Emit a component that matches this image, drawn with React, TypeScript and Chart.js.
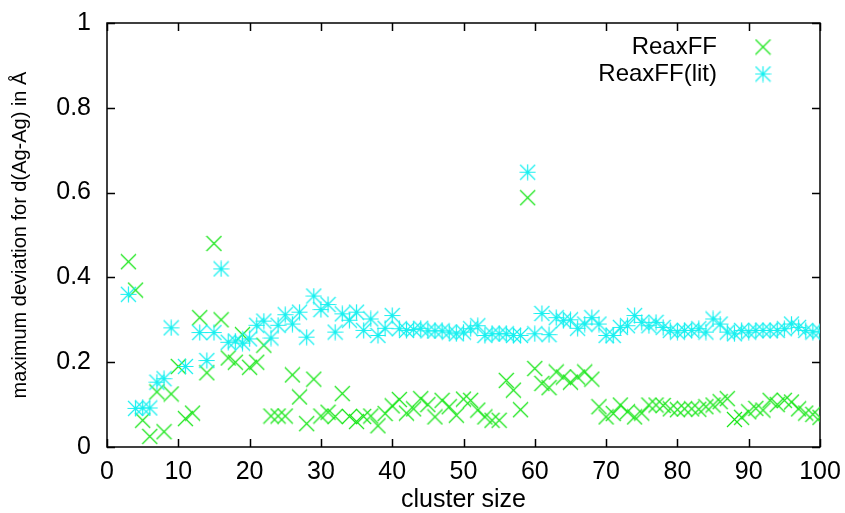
import React, { useEffect, useRef } from 'react';
import { Chart, registerables } from 'chart.js';

Chart.register(...registerables);

// cluster sizes (x categories)
const clusterSizes = [
  3, 4, 5, 6, 7, 8, 9, 10,
  11, 12, 13, 14, 15, 16, 17, 18, 19, 20,
  21, 22, 23, 24, 25, 26, 27, 28, 29, 30,
  31, 32, 33, 34, 35, 36, 37, 38, 39, 40,
  41, 42, 43, 44, 45, 46, 47, 48, 49, 50,
  51, 52, 53, 54, 55, 56, 57, 58, 59, 60,
  61, 62, 63, 64, 65, 66, 67, 68, 69, 70,
  71, 72, 73, 74, 75, 76, 77, 78, 79, 80,
  81, 82, 83, 84, 85, 86, 87, 88, 89, 90,
  91, 92, 93, 94, 95, 96, 97, 98, 99, 100,
];

// ReaxFF maximum deviation (Å)
const reaxff = [
  0.437, 0.37, 0.063, 0.025, 0.13, 0.036, 0.125, 0.19,
  0.067, 0.08, 0.305, 0.175, 0.48, 0.30, 0.21, 0.20, 0.265, 0.188,
  0.20, 0.24, 0.073, 0.073, 0.073, 0.17, 0.118, 0.055, 0.16, 0.073,
  0.082, 0.072, 0.126, 0.072, 0.06, 0.072, 0.073, 0.05, 0.079, 0.097,
  0.112, 0.08, 0.09, 0.114, 0.1, 0.071, 0.11, 0.095, 0.075, 0.113,
  0.11, 0.087, 0.071, 0.063, 0.063, 0.157, 0.134, 0.088, 0.588, 0.185,
  0.15, 0.14, 0.177, 0.165, 0.153, 0.165, 0.177, 0.16, 0.095, 0.071,
  0.079, 0.099, 0.083, 0.071, 0.08, 0.099, 0.099, 0.098, 0.09, 0.088,
  0.09, 0.09, 0.089, 0.095, 0.099, 0.107, 0.114, 0.065, 0.07, 0.083,
  0.091, 0.087, 0.11, 0.1, 0.11, 0.106, 0.09, 0.08, 0.077, 0.07,
];

// ReaxFF(lit) maximum deviation (Å)
const reaxffLit: (number | null)[] = [
  0.36, 0.091, 0.092, 0.092, 0.153, 0.161, 0.281, null,
  0.19, null, 0.27, 0.204, 0.27, 0.42, 0.247, 0.25, 0.245, 0.255,
  0.287, 0.297, 0.257, 0.287, 0.312, 0.29, 0.318, 0.259, 0.356, 0.324,
  0.336, 0.271, 0.314, 0.299, 0.318, 0.275, 0.302, 0.263, 0.28, 0.31,
  0.279, 0.275, 0.277, 0.28, 0.274, 0.274, 0.274, 0.271, 0.267, 0.271,
  0.279, 0.286, 0.263, 0.267, 0.267, 0.267, 0.263, 0.263, 0.648, 0.267,
  0.315, 0.265, 0.305, 0.298, 0.30, 0.28, 0.29, 0.305, 0.29, 0.263,
  0.263, 0.282, 0.286, 0.31, 0.294, 0.286, 0.294, 0.282, 0.275, 0.271,
  0.275, 0.275, 0.279, 0.271, 0.302, 0.29, 0.271, 0.267, 0.275, 0.271,
  0.275, 0.275, 0.275, 0.275, 0.279, 0.29, 0.282, 0.275, 0.271, 0.273,
];

const seriesNames = ['ReaxFF', 'ReaxFF(lit)'];
const xTitle = 'cluster size';
const yTitle = 'maximum deviation for d(Ag-Ag) in Å';

const GREEN = '#19e619';
const CYAN = '#19f0f0';
const FONT = '"Liberation Sans", Arial, Helvetica, sans-serif';

function makeMarker(kind: 'x' | 'star', color: string): HTMLCanvasElement {
  const s = 17;
  const c = document.createElement('canvas');
  c.width = s;
  c.height = s;
  const g = c.getContext('2d')!;
  g.strokeStyle = color;
  g.lineWidth = 1.2;
  const a = 1;
  const b = s - 1;
  g.beginPath();
  g.moveTo(a, a);
  g.lineTo(b, b);
  g.moveTo(b, a);
  g.lineTo(a, b);
  if (kind === 'star') {
    g.moveTo(a - 0.5, s / 2);
    g.lineTo(b + 0.5, s / 2);
    g.moveTo(s / 2, a - 0.5);
    g.lineTo(s / 2, b + 0.5);
  }
  g.stroke();
  return c;
}

export default function App() {
  const ref = useRef<HTMLCanvasElement | null>(null);

  useEffect(() => {
    document.body.style.margin = '0';
    const canvas = ref.current;
    if (!canvas) return;

    const xMarker = makeMarker('x', GREEN);
    const starMarker = makeMarker('star', CYAN);

    const toPoints = (vals: (number | null)[]) =>
      clusterSizes
        .map((x, i) => ({ x, y: vals[i] }))
        .filter((p) => p.y !== null && p.y !== undefined) as { x: number; y: number }[];

    const framePlugin = {
      id: 'frame',
      beforeDatasetsDraw(chart: any) {
        const { ctx, chartArea, scales } = chart;
        const { left, right, top, bottom } = chartArea;
        const tl = 8;
        ctx.save();
        ctx.strokeStyle = '#000';
        ctx.lineWidth = 1.5;
        ctx.beginPath();
        scales.x.ticks.forEach((t: any) => {
          const px = Math.round(scales.x.getPixelForValue(t.value)) + 0.5;
          ctx.moveTo(px, bottom);
          ctx.lineTo(px, bottom - tl);
          ctx.moveTo(px, top);
          ctx.lineTo(px, top + tl);
        });
        scales.y.ticks.forEach((t: any) => {
          const py = Math.round(scales.y.getPixelForValue(t.value)) + 0.5;
          ctx.moveTo(left, py);
          ctx.lineTo(left + tl, py);
          ctx.moveTo(right, py);
          ctx.lineTo(right - tl, py);
        });
        ctx.stroke();
        ctx.strokeRect(left, top, right - left, bottom - top);
        ctx.restore();
      },
      afterDraw(chart: any) {
        const { ctx, chartArea } = chart;
        const textRight = chartArea.right - 103;
        const markerX = chartArea.right - 57;
        const rows = [
          { name: seriesNames[0], marker: xMarker, y: chartArea.top + 24 },
          { name: seriesNames[1], marker: starMarker, y: chartArea.top + 51 },
        ];
        ctx.save();
        ctx.fillStyle = '#000';
        ctx.font = `24px ${FONT}`;
        ctx.textAlign = 'right';
        ctx.textBaseline = 'middle';
        rows.forEach((r) => {
          ctx.fillText(r.name, textRight, r.y);
          ctx.drawImage(r.marker, markerX - r.marker.width / 2, r.y - r.marker.height / 2);
        });
        ctx.restore();
      },
    };

    const chart = new Chart(canvas, {
      type: 'scatter',
      data: {
        datasets: [
          {
            label: seriesNames[0],
            data: toPoints(reaxff),
            pointStyle: xMarker as any,
            borderColor: GREEN,
            backgroundColor: GREEN,
            order: 1,
          },
          {
            label: seriesNames[1],
            data: toPoints(reaxffLit),
            pointStyle: starMarker as any,
            borderColor: CYAN,
            backgroundColor: CYAN,
            order: 0,
          },
        ],
      },
      options: {
        responsive: false,
        animation: false,
        events: [],
        layout: { padding: { top: 21, right: 25, left: 0, bottom: 0 } },
        plugins: {
          legend: { display: false },
          tooltip: { enabled: false },
        },
        scales: {
          x: {
            type: 'linear',
            min: 0,
            max: 100,
            grid: { display: false },
            border: { display: false },
            ticks: {
              stepSize: 10,
              color: '#000',
              padding: 2,
              font: { family: FONT, size: 25 },
            },
            title: {
              display: true,
              text: xTitle,
              color: '#000',
              font: { family: FONT, size: 25 },
              padding: { top: 0, bottom: -2 },
            },
            afterFit(scale: any) {
              scale.height = 66;
            },
          },
          y: {
            type: 'linear',
            min: 0,
            max: 1,
            grid: { display: false },
            border: { display: false },
            ticks: {
              stepSize: 0.2,
              color: '#000',
              padding: 8,
              font: { family: FONT, size: 25 },
              callback: (v: any) => String(Number(Number(v).toFixed(1))),
            },
            title: {
              display: true,
              text: yTitle,
              color: '#000',
              font: { family: FONT, size: 20 },
              padding: { top: 8, bottom: 0 },
            },
            afterFit(scale: any) {
              scale.width = 107;
            },
          },
        },
      },
      plugins: [framePlugin],
    });

    return () => chart.destroy();
  }, []);

  return (
    <div style={{ width: 845, height: 513 }}>
      <canvas ref={ref} width={845} height={513} style={{ display: 'block', width: 845, height: 513 }} />
    </div>
  );
}
